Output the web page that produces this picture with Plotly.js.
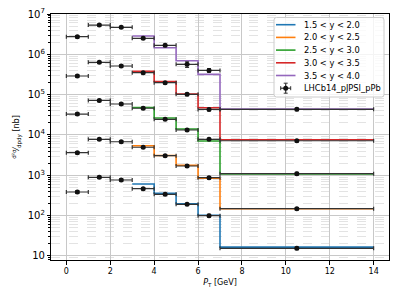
<!DOCTYPE html>
<html>
<head>
<meta charset="utf-8">
<script src="https://cdn.plot.ly/plotly-3.0.1.min.js"></script>
<style>html,body{margin:0;padding:0;background:#fff;}#chart{width:399px;height:299px;}</style>
</head>
<body>
<div id="chart"></div>
<script>
// ---- data ----
const seriesNames = ["1.5 < y < 2.0", "2.0 < y < 2.5", "2.5 < y < 3.0", "3.0 < y < 3.5", "3.5 < y < 4.0"];
const seriesColors = ["#1f77b4", "#ff7f0e", "#2ca02c", "#d62728", "#9467bd"];

// prediction histograms: bin edges and bin contents
const histEdges = [3, 4, 5, 6, 7, 14];
const hist15 = [610, 358, 198, 102, 16.6];
const hist20 = [5400, 3100, 1770, 843, 148];
const hist25 = [48000, 26400, 14100, 7100, 1080];
const hist30 = [380000, 210000, 104000, 47500, 7600];
const hist35 = [2850000, 1460000, 696000, 319000, 44000];

// LHCb data points
const dataName = "LHCb14_pJPSI_pPb";
const ptCenters = [0.5, 1.5, 2.5, 3.5, 4.5, 5.5, 6.5, 10.5];
const ptHalfWidths = [0.5, 0.5, 0.5, 0.5, 0.5, 0.5, 0.5, 3.5];
const lhcb15 = [386, 893, 766, 467, 338, 191, 100, 15.5];
const lhcb20 = [3650, 7800, 6800, 4960, 3070, 1700, 873, 149];
const lhcb25 = [33000, 72000, 58700, 46000, 24500, 13300, 7800, 1100];
const lhcb30 = [290000, 634000, 514000, 350000, 198000, 102000, 43000, 7200];
const lhcb35 = [2740000, 5300000, 4670000, 2500000, 1670000, 565000, 400000, 43300];
const lhcbErr15 = [30, 60, 50, 30, 20, 12, 7, 1.2];
const lhcbErr20 = [250, 500, 420, 300, 180, 110, 60, 10];
const lhcbErr25 = [2300, 4500, 3600, 2800, 1500, 900, 500, 80];
const lhcbErr30 = [20000, 40000, 32000, 22000, 12000, 7000, 3000, 500];
const lhcbErr35 = [190000, 330000, 290000, 160000, 110000, 90000, 40000, 3000];

const histVals = [hist15, hist20, hist25, hist30, hist35];
const lhcbVals = [lhcb15, lhcb20, lhcb25, lhcb30, lhcb35];
const lhcbErrs = [lhcbErr15, lhcbErr20, lhcbErr25, lhcbErr30, lhcbErr35];

const font = {family: "DejaVu Sans", size: 8, color: "#000"};

const traces = [];
histVals.forEach((vals, i) => {
  traces.push({
    type: "scatter", mode: "lines", name: seriesNames[i], showlegend: false,
    x: histEdges, y: vals.concat([vals[vals.length - 1]]),
    line: {shape: "hv", color: seriesColors[i], width: 1.6},
    hoverinfo: "skip"
  });
});

let dx = [], dy = [], dex = [], dey = [];
lhcbVals.forEach((vals, i) => {
  dx = dx.concat(ptCenters);
  dy = dy.concat(vals);
  dex = dex.concat(ptHalfWidths);
  dey = dey.concat(lhcbErrs[i]);
});
traces.push({
  type: "scatter", mode: "markers", name: dataName, showlegend: false,
  x: dx, y: dy,
  marker: {color: "#111", size: 5},
  error_x: {type: "data", array: dex, color: "#333", thickness: 1.2, width: 2},
  error_y: {type: "data", array: dey, color: "#333", thickness: 1.2, width: 2}
});

// ---- legend drawn in paper coordinates (plot area: 51..389 x 14..260 px) ----
const M = {l: 51, r: 10, t: 14, b: 39};
const PW = 399 - M.l - M.r, PH = 299 - M.t - M.b;
const px = X => (X - M.l) / PW;
const py = Y => 1 - (Y - M.t) / PH;
const box = {x0: 274, x1: 384, y0: 17.5, y1: 97, r: 2.5};
const rowY0 = 24.7, rowStep = 12.7;
const shapes = [], annotations = [];
(function () {
  const {x0, x1, y0, y1, r} = box;
  const P = (X, Y) => px(X) + "," + py(Y);
  const d = "M" + P(x0 + r, y0) + " L" + P(x1 - r, y0) + " Q" + P(x1, y0) + " " + P(x1, y0 + r) +
            " L" + P(x1, y1 - r) + " Q" + P(x1, y1) + " " + P(x1 - r, y1) +
            " L" + P(x0 + r, y1) + " Q" + P(x0, y1) + " " + P(x0, y1 - r) +
            " L" + P(x0, y0 + r) + " Q" + P(x0, y0) + " " + P(x0 + r, y0) + " Z";
  shapes.push({type: "path", xref: "paper", yref: "paper", path: d,
    fillcolor: "rgba(255,255,255,0.8)", line: {color: "#cccccc", width: 1}, layer: "above"});
})();
const labels = seriesNames.concat([dataName]);
labels.forEach((lab, i) => {
  const Y = rowY0 + i * rowStep;
  if (i < seriesNames.length) {
    shapes.push({type: "line", xref: "paper", yref: "paper",
      x0: px(276), x1: px(295.5), y0: py(Y), y1: py(Y),
      line: {color: seriesColors[i], width: 1.6}, layer: "above"});
  } else {
    const cx = 285.7;
    shapes.push({type: "line", xref: "paper", yref: "paper", x0: px(cx - 5), x1: px(cx + 5), y0: py(Y), y1: py(Y), line: {color: "#333", width: 1.2}, layer: "above"});
    shapes.push({type: "line", xref: "paper", yref: "paper", x0: px(cx), x1: px(cx), y0: py(Y - 5), y1: py(Y + 5), line: {color: "#333", width: 1.2}, layer: "above"});
    shapes.push({type: "line", xref: "paper", yref: "paper", x0: px(cx - 5), x1: px(cx - 5), y0: py(Y - 2), y1: py(Y + 2), line: {color: "#333", width: 1}, layer: "above"});
    shapes.push({type: "line", xref: "paper", yref: "paper", x0: px(cx + 5), x1: px(cx + 5), y0: py(Y - 2), y1: py(Y + 2), line: {color: "#333", width: 1}, layer: "above"});
    shapes.push({type: "line", xref: "paper", yref: "paper", x0: px(cx - 2), x1: px(cx + 2), y0: py(Y - 5), y1: py(Y - 5), line: {color: "#333", width: 1}, layer: "above"});
    shapes.push({type: "line", xref: "paper", yref: "paper", x0: px(cx - 2), x1: px(cx + 2), y0: py(Y + 5), y1: py(Y + 5), line: {color: "#333", width: 1}, layer: "above"});
    shapes.push({type: "circle", xref: "paper", yref: "paper", x0: px(cx - 2.5), x1: px(cx + 2.5), y0: py(Y - 2.5), y1: py(Y + 2.5), fillcolor: "#111", line: {color: "#111", width: 0}, layer: "above"});
  }
  annotations.push({xref: "paper", yref: "paper", x: px(301.5), y: py(Y), xanchor: "left", yanchor: "middle",
    text: lab, showarrow: false, font: {family: "DejaVu Sans", size: 8.3, color: "#000"}});
});

const layout = {
  width: 399, height: 299,
  margin: M,
  paper_bgcolor: "#fff", plot_bgcolor: "#fff",
  font: font,
  showlegend: false,
  shapes: shapes,
  annotations: annotations,
  xaxis: {
    range: [-0.7, 14.7],
    tickmode: "linear", tick0: 0, dtick: 2,
    ticks: "outside", ticklen: 3.5, tickcolor: "#000",
    showline: true, linecolor: "#000", linewidth: 1, mirror: true,
    showgrid: true, gridcolor: "#c8c8c8", gridwidth: 1,
    zeroline: false,
    tickfont: font,
    title: {text: "<i>P</i><sub>T</sub> [GeV]", font: font, standoff: 4}
  },
  yaxis: {
    type: "log",
    range: [0.9, 7.0],
    tickmode: "linear", tick0: 0, dtick: 1,
    exponentformat: "power",
    ticks: "outside", ticklen: 3.5, tickcolor: "#000",
    showline: true, linecolor: "#000", linewidth: 1, mirror: true,
    showgrid: true, gridcolor: "#c8c8c8", gridwidth: 1,
    zeroline: false,
    tickfont: font,
    minor: {dtick: "D1", ticks: "outside", ticklen: 2, tickcolor: "#000",
            showgrid: true, gridcolor: "#dcdcdc", griddash: "dash", gridwidth: 0.8},
    title: {text: "<sup>d²σ</sup>⁄<sub>dpdy</sub> [nb]", font: font, standoff: 6}
  }
};

Plotly.newPlot("chart", traces, layout, {staticPlot: true, displayModeBar: false});
</script>
</body>
</html>
